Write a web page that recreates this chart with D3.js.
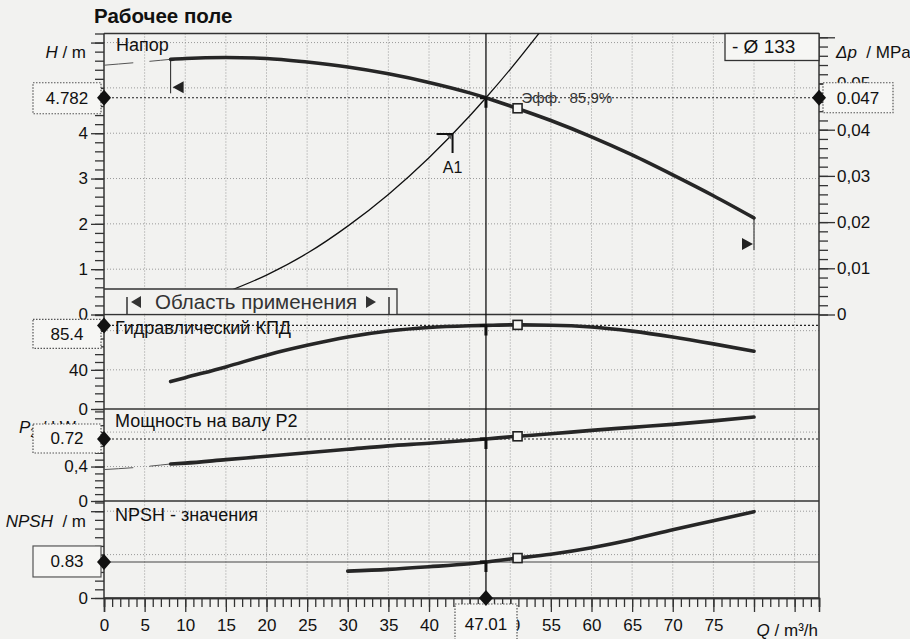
<!DOCTYPE html>
<html><head><meta charset="utf-8">
<script src="https://cdn.jsdelivr.net/npm/d3@7"></script>
<style>
body{margin:0;background:#f2f2f0;}
svg{display:block;font-family:"Liberation Sans",Arial,sans-serif;}
</style>
</head><body>
<svg id="c" width="910" height="639"></svg>
<script>
// ---------------- data ----------------
const flowQ   = [8.2,10,15,20,25,30,35,40,45,47.01,50,55,60,65,70,75,80];
const headH   = [5.63,5.65,5.67,5.65,5.57,5.46,5.31,5.12,4.89,4.782,4.60,4.28,3.92,3.52,3.08,2.62,2.13];
const headExtQ = [0,4,8.2];
const headExtH = [5.50,5.56,5.63];
const effPct  = [28,32,43,55,65,73.5,79.6,83.3,85.0,85.4,85.9,85.6,83.8,79.5,73.5,66.5,59];
const powerKW = [0.43,0.44,0.48,0.52,0.56,0.60,0.64,0.67,0.705,0.72,0.745,0.78,0.82,0.855,0.89,0.93,0.975];
const powerExtQ = [0,4,8.2];
const powerExtP = [0.365,0.39,0.43];
const npshQ   = [30,35,40,45,47.01,50,55,60,65,70,75,80];
const npshM   = [0.62,0.66,0.72,0.79,0.83,0.90,1.01,1.16,1.35,1.57,1.78,1.99];
const systemQ = [15,20,25,30,35,40,45,47.01,50,54];
const systemH = [0.49,0.87,1.35,1.95,2.65,3.46,4.38,4.782,5.41,6.31];
const duty = {Q:47.01, H:4.782, dp:0.047, eff:85.4, P:0.72, npsh:0.83};
const bep  = {Q:50.9, H:4.55, eff:85.9, P:0.751, npsh:0.92};
const rangeQ = [8.2, 80];
const pointA1 = {Q:42.9, H:3.98};
const xTickLabels = [0,5,10,15,20,25,30,35,40,50,55,60,65,70,75];
const hTickLabels = [0,1,2,3,4];
const dpTickLabels = [0,0.01,0.02,0.03,0.04,0.05];
const effTickLabels = [0,40];
const pTickLabels = [0,0.4];
const npshTickLabels = [0];
const diameterText = "- Ø 133";
const effText = "Эфф.  85,9%";

// ---------------- scales ----------------
const x   = d3.scaleLinear().domain([0,88]).range([104,819]);
const yH  = d3.scaleLinear().domain([0,6.2]).range([314.5,33.5]);
const yDp = d3.scaleLinear().domain([0,6.2*0.00981]).range([314.5,33.5]);
const yE  = d3.scaleLinear().domain([0,96]).range([409,315]);
const yP  = d3.scaleLinear().domain([0,1.068]).range([501,409]);
const yN  = d3.scaleLinear().domain([0,2.235]).range([598,501]);
const L = 104, R = 819, T = 33.5, B = 598;

const svg = d3.select("#c");
const comma = d => String(d).replace(".", ",");

// ---------------- grid ----------------
const grid = svg.append("g").attr("stroke","#999").attr("stroke-width",1).attr("stroke-dasharray","1,2");
d3.range(5,88,5).forEach(q => grid.append("line").attr("x1",x(q)).attr("x2",x(q)).attr("y1",T).attr("y2",B));
[[yH,[1,2,3,4,5,6]],[yE,[40,80]],[yP,[0.4,0.8]],[yN,[1,2]]].forEach(([s,vals]) =>
  vals.forEach(v => grid.append("line").attr("x1",L).attr("x2",R).attr("y1",s(v)).attr("y2",s(v))));

// ---------------- panel frames ----------------
const fr = svg.append("g").attr("stroke","#333").attr("stroke-width",1.5);
fr.append("line").attr("x1",L).attr("x2",R).attr("y1",T).attr("y2",T);
fr.append("line").attr("x1",R).attr("x2",R).attr("y1",T).attr("y2",B);
[yH(0), yE(0), yP(0), yN(0)].forEach(y => fr.append("line").attr("x1",L).attr("x2",R).attr("y1",y).attr("y2",y));
fr.append("line").attr("x1",L).attr("x2",L).attr("y1",T).attr("y2",B);

// ---------------- duty point guide lines ----------------
const dl = svg.append("g").attr("stroke","#222").attr("stroke-width",1.2);
[[yH,duty.H],[yE,duty.eff],[yP,duty.P]].forEach(([s,v]) =>
  dl.append("line").attr("x1",L).attr("x2",R).attr("y1",s(v)).attr("y2",s(v)).attr("stroke-dasharray","2,2"));
dl.append("line").attr("x1",L).attr("x2",R).attr("y1",yN(duty.npsh)).attr("y2",yN(duty.npsh)).attr("stroke","#444");
dl.append("line").attr("x1",x(duty.Q)).attr("x2",x(duty.Q)).attr("y1",T).attr("y2",B).attr("stroke","#111").attr("stroke-width",1.3);

// ---------------- system curve ----------------
svg.append("clipPath").attr("id","topclip").append("rect").attr("x",L).attr("y",T).attr("width",R-L).attr("height",yH(0)-T);
svg.append("path").attr("clip-path","url(#topclip)")
  .attr("d", d3.line().x((d,i)=>x(systemQ[i])).y(d=>yH(d)).curve(d3.curveMonotoneX)(systemH))
  .attr("fill","none").attr("stroke","#111").attr("stroke-width",1.3);

// ---------------- curves ----------------
function curve(qs, vals, s, opts={}) {
  svg.append("path")
    .attr("d", d3.line().x((d,i)=>x(qs[i])).y(d=>s(d)).curve(d3.curveMonotoneX)(vals))
    .attr("fill","none").attr("stroke",opts.color||"#262626")
    .attr("stroke-width",opts.w||3.6).attr("stroke-linecap","round")
    .attr("stroke-dasharray",opts.dash||null);
}
curve(headExtQ, headExtH, yH, {w:1, color:"#555", dash:"29,17"});
curve(powerExtQ, powerExtP, yP, {w:1, color:"#555", dash:"29,17"});
curve(flowQ, headH, yH);
curve(flowQ, effPct, yE);
curve(flowQ, powerKW, yP);
curve(npshQ, npshM, yN);

// range-of-use markers on the head curve
const rm = svg.append("g");
rm.append("line").attr("x1",x(rangeQ[0])).attr("x2",x(rangeQ[0])).attr("y1",yH(headH[0])).attr("y2",yH(headH[0])+34).attr("stroke","#222");
rm.append("path").attr("d",`M${x(rangeQ[0])+2},${yH(headH[0])+28} l11,-6 v12 z`).attr("fill","#222");
const endH = headH[headH.length-1];
rm.append("line").attr("x1",x(rangeQ[1])).attr("x2",x(rangeQ[1])).attr("y1",yH(endH)).attr("y2",yH(endH)+32).attr("stroke","#222");
rm.append("path").attr("d",`M${x(rangeQ[1])-1},${yH(endH)+26} l-11,-6 v12 z`).attr("fill","#222");

// duty point "T" marks
[[yH,duty.H],[yE,duty.eff],[yP,duty.P],[yN,duty.npsh]].forEach(([s,v]) => {
  const cx = x(duty.Q), cy = s(v);
  svg.append("path").attr("d",`M${cx-6},${cy} H${cx+1} M${cx},${cy} V${cy+10}`)
    .attr("stroke","#111").attr("stroke-width",3).attr("fill","none");
});

// BEP squares
[[yH,bep.H],[yE,bep.eff],[yP,bep.P],[yN,bep.npsh]].forEach(([s,v]) => {
  svg.append("rect").attr("x",x(bep.Q)-4.5).attr("y",s(v)-4.5).attr("width",9).attr("height",9)
    .attr("fill","#f6f6f4").attr("stroke","#222").attr("stroke-width",1.6);
});
svg.append("text").attr("x",x(bep.Q)+4).attr("y",yH(duty.H)+5).attr("font-size",15).attr("fill","#333")
  .attr("xml:space","preserve").text(effText);

// A1 point
const a1x = x(pointA1.Q), a1y = yH(pointA1.H);
svg.append("path").attr("d",`M${a1x-16},${a1y} H${a1x} V${a1y+19}`).attr("stroke","#111").attr("stroke-width",2).attr("fill","none");
svg.append("path").attr("d",`M${a1x-6},${a1y+1} L${a1x-1},${a1y+1} L${a1x-1},${a1y+6} Z`).attr("fill","#555");
svg.append("text").attr("x",a1x).attr("y",a1y+39).attr("text-anchor","middle").attr("font-size",16).attr("fill","#111").text("A1");

// ---------------- axes ----------------
function vAxis(scale, side, minors, majors, labels, fmt) {
  const X = side==="left" ? L : R;
  const mk = side==="left" ? d3.axisLeft : d3.axisRight;
  const g1 = svg.append("g").attr("transform",`translate(${X},0)`)
    .call(mk(scale).tickValues(minors).tickSize(9).tickFormat(""));
  const g2 = svg.append("g").attr("transform",`translate(${X},0)`)
    .call(mk(scale).tickValues(majors).tickSize(side==="left"?13:16).tickPadding(side==="left"?3:2)
      .tickFormat(d => labels.some(l => Math.abs(l-d)<1e-9) ? fmt(d) : ""));
  [g1,g2].forEach(g => { g.select(".domain").remove(); g.selectAll("line").attr("stroke","#333").attr("stroke-width",1.3); });
  g2.selectAll("text").attr("font-size",17).attr("fill","#111").attr("font-family","Liberation Sans, Arial, sans-serif");
}
vAxis(yH, "left", d3.range(0,6.21,0.2), d3.range(0,6.1,1), hTickLabels, d=>d);
vAxis(yDp, "right", d3.range(0,0.0605,0.002), d3.range(0,0.061,0.01), dpTickLabels, d=>comma(+d.toFixed(2)));
vAxis(yE, "left", d3.range(0,96.1,8), [0,40,80], effTickLabels, d=>d);
vAxis(yP, "left", d3.range(0,1.061,0.08), [0,0.4,0.8], pTickLabels, d=>comma(d));
vAxis(yN, "left", d3.range(0,2.21,0.2), [0,1,2], npshTickLabels, d=>d);

const gx1 = svg.append("g").attr("transform",`translate(0,${B})`).call(d3.axisBottom(x).tickValues(d3.range(0,88.1,1)).tickSize(9).tickFormat(""));
const gx2 = svg.append("g").attr("transform",`translate(0,${B})`).call(d3.axisBottom(x).tickValues(d3.range(0,88,5)).tickSize(14).tickPadding(7)
  .tickFormat(d => xTickLabels.includes(d) ? d : ""));
[gx1,gx2].forEach(g => { g.selectAll("line").attr("stroke","#333").attr("stroke-width",1.3); g.select(".domain").attr("stroke","#333").attr("stroke-width",1.5); });
gx2.selectAll("text").attr("font-size",17).attr("fill","#111").attr("font-family","Liberation Sans, Arial, sans-serif");

// axis titles
const t = svg.append("g").attr("font-size",17).attr("fill","#111");
t.append("text").attr("x",86).attr("y",58).attr("text-anchor","end").html('<tspan font-style="italic">H</tspan> / m');
t.append("text").attr("x",836).attr("y",58).html('<tspan font-style="italic">Δp</tspan>  / MPa').attr("xml:space","preserve");
t.append("text").attr("x",19).attr("y",433).html('<tspan font-style="italic">P</tspan><tspan font-size="12" dy="4">2</tspan><tspan dy="-4"> / kW</tspan>');
t.append("text").attr("x",86).attr("y",527).attr("text-anchor","end").attr("xml:space","preserve").html('<tspan font-style="italic">NPSH</tspan>  / m');
t.append("text").attr("x",818).attr("y",636).attr("text-anchor","end").html('<tspan font-style="italic">Q</tspan> / m³/h');

// panel labels
const pl = svg.append("g").attr("font-size",18).attr("fill","#111");
pl.append("text").attr("x",116).attr("y",51).text("Напор");
pl.append("text").attr("x",115).attr("y",334).text("Гидравлический КПД");
pl.append("text").attr("x",115).attr("y",427).text("Мощность на валу P2");
pl.append("text").attr("x",115).attr("y",521).text("NPSH - значения");
svg.append("text").attr("x",94).attr("y",23).attr("font-size",20.5).attr("font-weight","bold").attr("fill","#111").text("Рабочее поле");

// Область применения box
const ob = svg.append("g");
ob.append("rect").attr("x",L+1).attr("y",289).attr("width",397-L-1).attr("height",yH(0)-289-1).attr("fill","#f2f2f0");
ob.append("path").attr("d",`M${L},289 H397 V${yH(0)}`).attr("stroke","#333").attr("stroke-width",1.3).attr("fill","none");
ob.append("path").attr("d",`M127,297 V${yH(0)} M389,297 V${yH(0)}`).attr("stroke","#333").attr("stroke-width",1.5);
ob.append("path").attr("d","M131,302 l10,-6 v12 z M376,302 l-10,-6 v12 z").attr("fill","#333");
ob.append("text").attr("x",155).attr("y",309).attr("font-size",20.5).attr("fill","#333").text("Область применения");

// diameter box
svg.append("rect").attr("x",725).attr("y",T).attr("width",R-725).attr("height",27).attr("fill","#f6f6f4").attr("stroke","#333").attr("stroke-width",1.3);
svg.append("text").attr("x",732).attr("y",53).attr("font-size",19).attr("fill","#111").attr("xml:space","preserve").text(diameterText);

// value boxes + diamonds
function valueBox(bx, by, w, h, txt, dashed) {
  svg.append("rect").attr("x",bx).attr("y",by).attr("width",w).attr("height",h)
    .attr("fill","#f6f6f4").attr("stroke","#555").attr("stroke-width",1.2).attr("stroke-dasharray",dashed?"1.5,1.5":null);
  svg.append("text").attr("x",bx+w/2).attr("y",by+h/2+6).attr("text-anchor","middle").attr("font-size",17).attr("fill","#111").text(txt);
}
valueBox(33, yH(duty.H)-15, 68, 31, duty.H.toFixed(3), true);
valueBox(33, yE(duty.eff)-6, 68, 29, duty.eff.toFixed(1), true);
valueBox(33, yP(duty.P)-15, 68, 29, duty.P.toFixed(2), true);
valueBox(33, yN(duty.npsh)-16, 68, 31, duty.npsh.toFixed(2), false);
valueBox(823, yH(duty.H)-15, 70, 30, duty.dp.toFixed(3), true);
valueBox(455, 604, 62, 40, duty.Q.toFixed(2), true);

const diamond = (cx, cy) => svg.append("path").attr("d",`M${cx},${cy-8} L${cx+7},${cy} L${cx},${cy+8} L${cx-7},${cy} Z`).attr("fill","#111");
diamond(L, yH(duty.H)); diamond(R, yH(duty.H));
diamond(L, yE(duty.eff)); diamond(L, yP(duty.P)); diamond(L, yN(duty.npsh));
diamond(x(duty.Q), B);
</script>
</body></html>
